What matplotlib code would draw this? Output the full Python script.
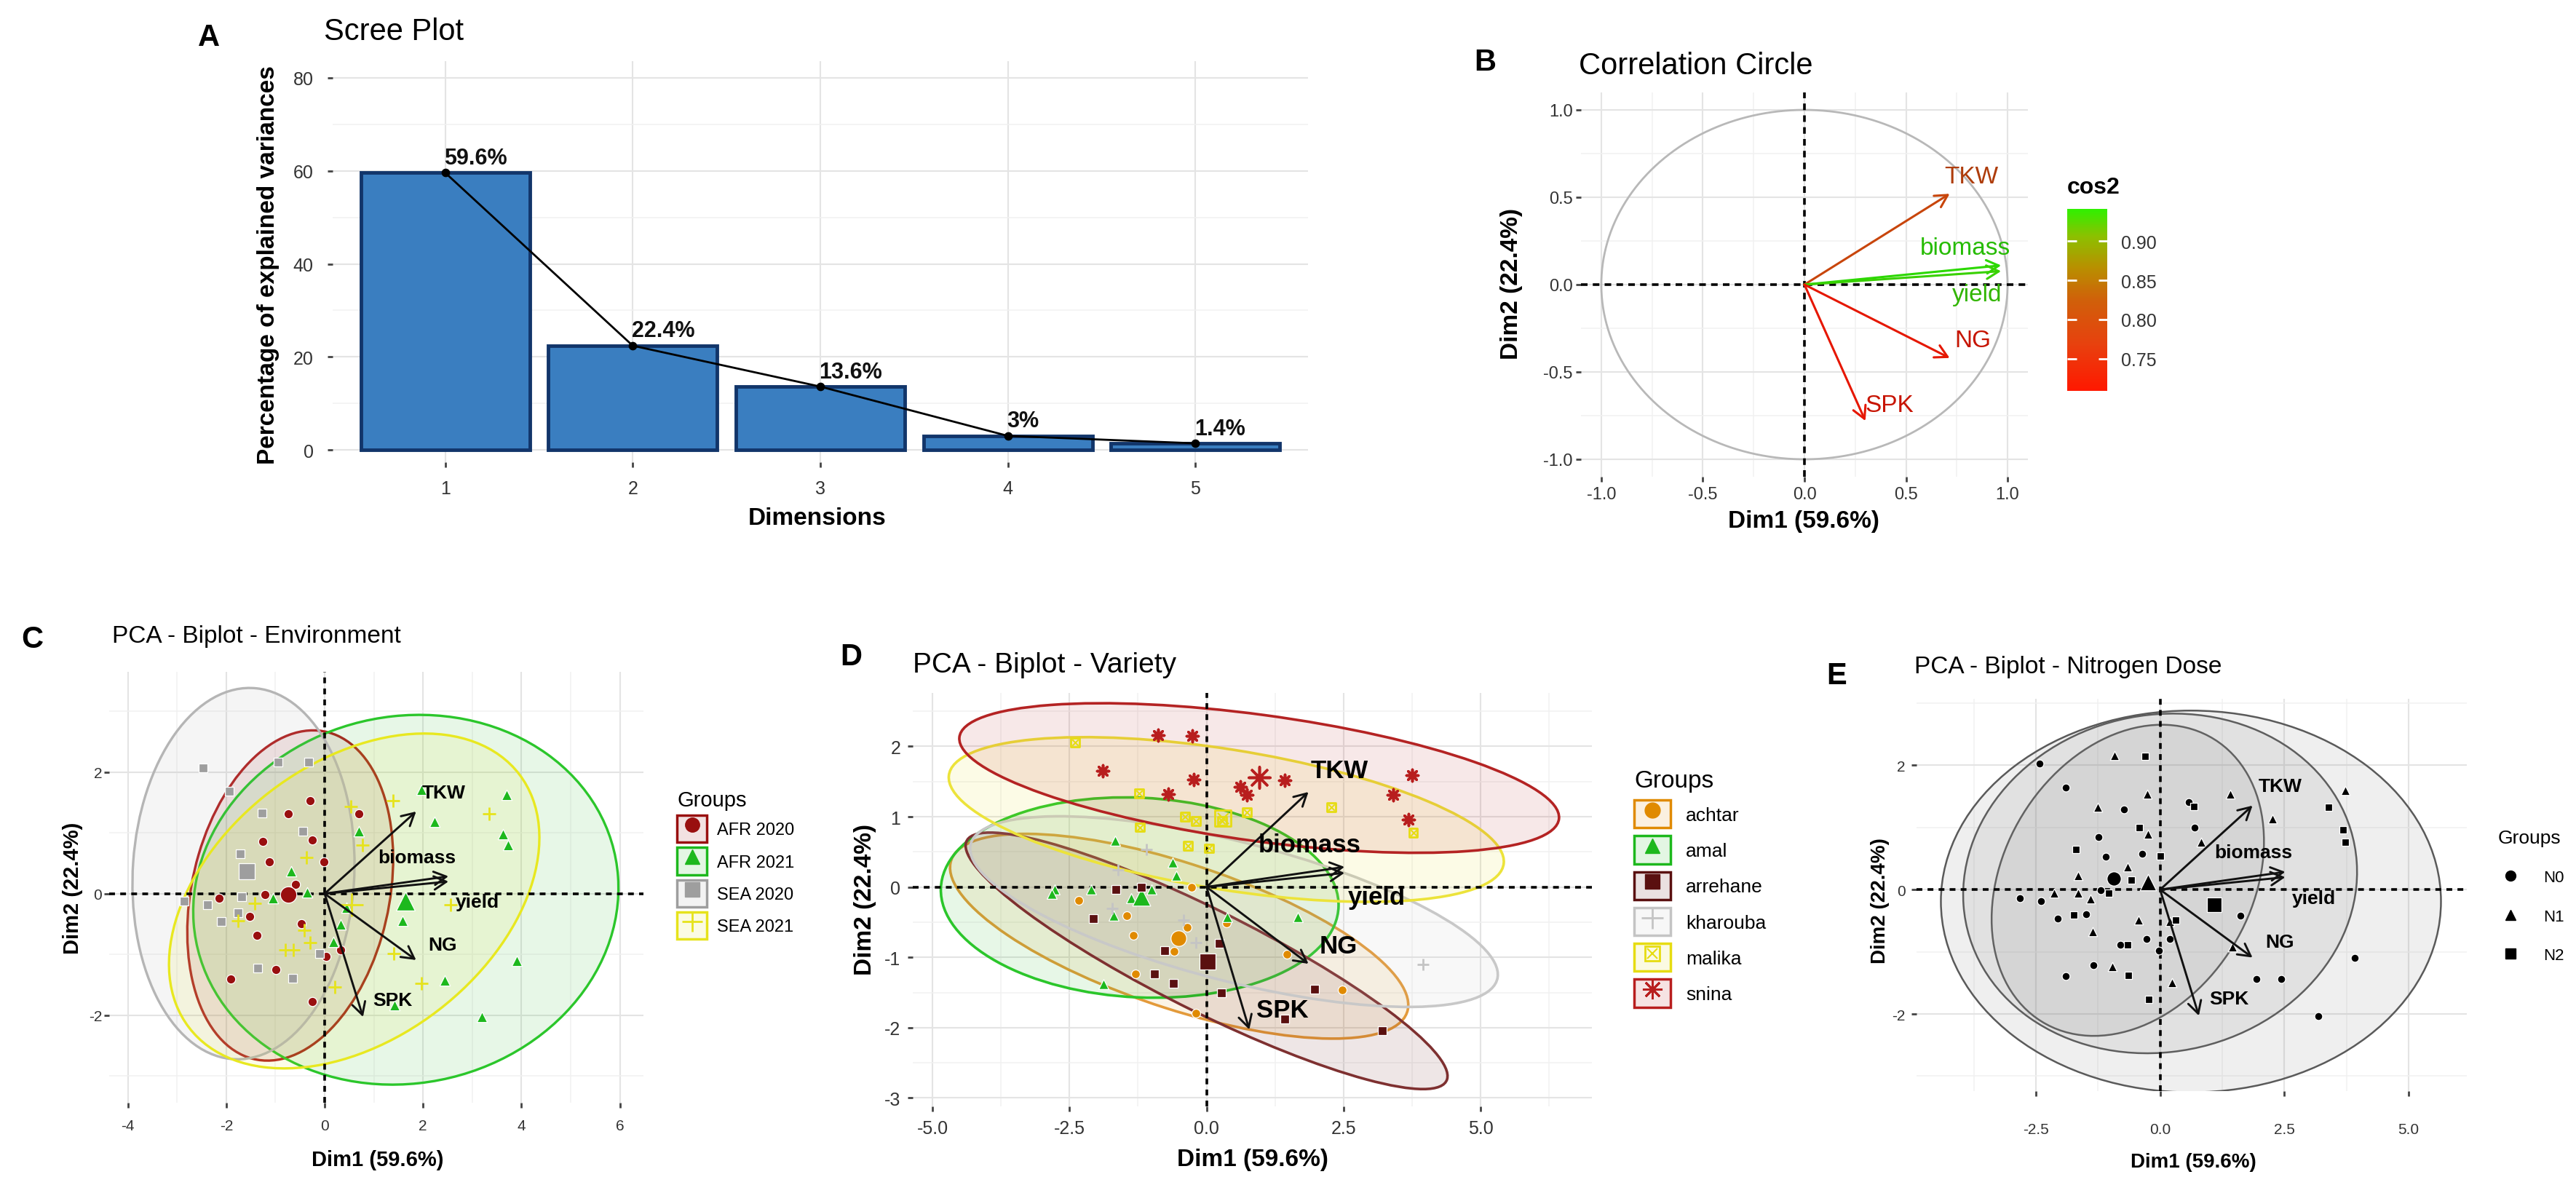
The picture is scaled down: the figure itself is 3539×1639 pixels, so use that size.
import numpy as np
import matplotlib
matplotlib.use("Agg")
import matplotlib.pyplot as plt
from matplotlib.patches import Ellipse, Patch
from matplotlib.lines import Line2D
from matplotlib.colors import LinearSegmentedColormap, Normalize, to_rgba
from matplotlib.cm import ScalarMappable

plt.rcParams['font.family'] = ['Liberation Sans', 'DejaVu Sans']
plt.rcParams['axes.unicode_minus'] = False

# ------------------------------------------------------------------ data
dims = [1, 2, 3, 4, 5]
explained = [59.6, 22.4, 13.6, 3.0, 1.4]
explained_labels = ['59.6%', '22.4%', '13.6%', '3%', '1.4%']

variables = ['TKW', 'biomass', 'yield', 'NG', 'SPK']
var_dim1 = [0.715, 0.968, 0.968, 0.715, 0.300]
var_dim2 = [0.520, 0.110, 0.077, -0.420, -0.780]
var_cos2 = [0.790, 0.941, 0.935, 0.712, 0.709]
cos2_min, cos2_max = 0.709, 0.941
cc_label_x = [0.82, 0.79, 0.85, 0.83, 0.42]
cc_label_y = [0.62, 0.21, -0.055, -0.32, -0.69]

biplot_arrow_scale = 2.6
bi_label_x = [2.42, 1.88, 3.10, 2.40, 1.38]
bi_label_y = [1.66, 0.60, -0.14, -0.84, -1.75]

# Environment (panel C)
env_groups = ['AFR 2020', 'AFR 2021', 'SEA 2020', 'SEA 2021']
afr2020_x = [-0.30, -0.74, 0.70, -1.26, -0.25, -1.13, -0.01, -0.59, -1.21, -2.14,
             -1.52, -1.38, -0.47, -1.91, -0.99, 0.03, 0.32, -0.25]
afr2020_y = [1.53, 1.32, 1.32, 0.86, 0.88, 0.52, 0.53, 0.15, -0.01, -0.07,
             -0.38, -0.69, -0.49, -1.41, -1.25, -1.03, -0.92, -1.78]
afr2021_x = [0.69, -0.68, -0.35, -1.05, 0.45, 0.32, 0.17, 1.96, 3.70, 2.24,
             3.63, 3.73, 1.59, 3.90, 2.44, 3.19, 1.42]
afr2021_y = [1.03, 0.37, 0.02, -0.07, -0.23, -0.51, -0.79, 1.71, 1.63, 1.18,
             0.98, 0.80, -0.44, -1.11, -1.43, -2.03, -1.83]
sea2020_x = [-2.47, -0.95, -0.33, -1.94, -1.28, -0.45, -1.72, -2.85, -2.38, -1.69,
             -1.76, -2.10, -1.36, -0.65, -0.10]
sea2020_y = [2.07, 2.17, 2.17, 1.68, 1.33, 1.03, 0.66, -0.12, -0.18, -0.05,
             -0.32, -0.46, -1.23, -1.39, -0.99]
sea2021_x = [0.53, 0.77, -0.37, -1.42, -1.76, -0.41, -0.30, -0.80, -0.63, 0.21,
             1.39, 3.35, 2.56, 1.41, 1.96]
sea2021_y = [1.43, 0.80, 0.60, -0.16, -0.44, -0.60, -0.81, -0.92, -0.92, -1.53,
             1.53, 1.32, -0.18, -0.99, -1.48]
env_mean_x = [-0.74, 1.64, -1.59, 0.55]
env_mean_y = [-0.02, -0.12, 0.37, -0.18]
env_ell_cx = [-0.70, 1.65, -1.65, 0.60]
env_ell_cy = [-0.03, -0.10, 0.33, -0.12]
env_ell_w = [3.96, 8.66, 4.50, 8.00]
env_ell_h = [5.60, 6.06, 6.12, 4.80]
env_ell_angle = [-20, 5, -5, 25]

# Variety (panel D)
var_groups = ['achtar', 'amal', 'arrehane', 'kharouba', 'malika', 'snina']
achtar_x = [-2.33, -1.46, -1.34, -0.36, -0.59, -1.30, -0.19, -0.28, 0.36, 1.47, 2.48]
achtar_y = [-0.19, -0.41, -0.69, -0.57, -0.91, -1.24, -1.79, 0.00, -0.51, -0.96, -1.46]
amal_x = [-1.67, -0.62, -0.55, -2.77, -2.83, -2.10, -1.70, -1.37, -1.01, -1.88, 0.38, 1.66]
amal_y = [0.66, 0.35, 0.16, -0.04, -0.10, -0.04, -0.41, -0.16, -0.04, -1.38, -0.43, -0.43]
arrehane_x = [-1.65, -1.19, -2.07, -0.76, -0.95, -0.60, 0.23, 0.27, 1.97, 3.21, 1.43]
arrehane_y = [-0.04, 0.00, -0.45, -0.90, -1.24, -1.37, -0.80, -1.50, -1.45, -2.04, -1.88]
kharouba_x = [-1.10, -1.61, -1.72, -0.42, -0.19, 3.95]
kharouba_y = [0.53, 0.24, -0.30, -0.47, -0.79, -1.10]
malika_x = [-2.40, -1.23, -0.39, -0.19, 0.29, -1.22, -0.34, 0.04, 0.73, 2.28, 3.77]
malika_y = [2.06, 1.33, 1.00, 0.94, 0.94, 0.85, 0.59, 0.55, 1.06, 1.13, 0.77]
snina_x = [-0.89, -0.26, -1.89, -0.24, -0.70, 0.62, 0.73, 1.43, 3.75, 3.40, 3.69]
snina_y = [2.16, 2.15, 1.65, 1.53, 1.32, 1.42, 1.31, 1.52, 1.59, 1.31, 0.96]
var_mean_x = [-0.51, -1.19, 0.02, np.nan, 0.30, 0.96]
var_mean_y = [-0.73, -0.14, -1.06, np.nan, 0.98, 1.56]
var_ell_cx = [-0.50, -1.22, 0.00, 0.50, 0.36, 0.96]
var_ell_cy = [-0.70, -0.15, -1.05, -0.35, 0.96, 1.55]
var_ell_w = [8.60, 7.26, 9.40, 9.80, 10.20, 11.00]
var_ell_h = [2.10, 2.84, 1.50, 2.00, 2.00, 1.80]
var_ell_angle = [-14, -2, -21, -11, -7, -6]

# Nitrogen dose (panel E)
dose_groups = ['N0', 'N1', 'N2']
n0_x = [-2.43, -1.90, -0.72, -1.24, -1.10, -0.36, -2.82, -2.40, -2.06, -1.49, -1.19, -0.27,
        -1.90, -1.34, -0.80, -0.03, 0.58, 0.70, 0.19, 1.61, 3.92, 1.94, 2.44, 3.19]
n0_y = [2.03, 1.64, 1.29, 0.84, 0.53, 0.58, -0.14, -0.18, -0.47, -0.39, -0.01, -0.79,
        -1.39, -1.21, -0.89, -0.98, 1.41, 1.00, -0.79, -0.42, -1.10, -1.44, -1.44, -2.03]
n1_x = [-0.92, -0.26, -1.25, -0.24, -0.65, -1.65, -2.13, -1.65, -1.40, -0.44, -1.36, -0.96,
        0.24, 0.19, 0.82, 1.41, 2.26, 3.73, 1.46]
n1_y = [2.16, 1.54, 1.32, 0.89, 0.36, 0.23, -0.05, -0.05, -0.15, -0.49, -0.68, -1.24,
        -1.49, -0.51, 0.76, 1.54, 1.14, 1.60, -0.92]
n2_x = [-0.30, -0.42, -1.69, -0.58, 0.00, -1.74, -1.03, -0.65, -0.64, -0.23, 0.31, 0.68,
        3.39, 3.68, 3.73]
n2_y = [2.14, 1.00, 0.65, 0.16, 0.54, -0.41, -0.05, -0.89, -1.38, -1.76, -0.49, 1.34,
        1.32, 0.96, 0.76]
dose_mean_x = [-0.93, -0.25, 1.09]
dose_mean_y = [0.18, 0.12, -0.24]
dose_ell_cx = [-0.65, 0.00, 0.62]
dose_ell_cy = [0.15, 0.10, -0.19]
dose_ell_w = [5.90, 7.94, 10.06]
dose_ell_h = [4.50, 5.44, 6.14]
dose_ell_angle = [35, 5, 0]

# ------------------------------------------------------------------ figure
W, H = 3539, 1640
fig = plt.figure(figsize=(W / 100, H / 100), dpi=100)
fig.patch.set_facecolor('white')


def rect(l, t, r, b):
    return [l / W, 1 - b / H, (r - l) / W, (b - t) / H]


def fx(px):
    return px / W


def fy(py):
    return 1 - py / H


GRID_MAJ = '#E4E4E4'
GRID_MIN = '#F1F1F1'
TICK_C = '#333333'


def style_axes(ax, xmaj, xlabels, xmin, ymaj, ylabels, ymin, fs, xpad, ypad):
    for s in ax.spines.values():
        s.set_visible(False)
    ax.set_xticks(xmaj, labels=xlabels)
    ax.set_xticks(xmin, minor=True)
    ax.set_yticks(ymaj, labels=ylabels)
    ax.set_yticks(ymin, minor=True)
    ax.grid(True, which='major', color=GRID_MAJ, lw=1.5)
    ax.grid(True, which='minor', color=GRID_MIN, lw=1.1)
    ax.set_axisbelow(True)
    ax.tick_params(which='major', length=5, width=2, color='#444444',
                   labelsize=fs, labelcolor=TICK_C)
    ax.tick_params(axis='x', which='major', pad=xpad)
    ax.tick_params(axis='y', which='major', pad=ypad)
    ax.tick_params(which='minor', length=0)


def set_labels(ax, r, xlab, ylab, xpos, ypos, fs):
    l, t, rr, b = r
    ax.set_xlabel(xlab, fontsize=fs, fontweight='bold')
    ax.set_ylabel(ylab, fontsize=fs, fontweight='bold')
    ax.xaxis.set_label_coords((xpos[0] - l) / (rr - l), (b - xpos[1]) / (b - t))
    ax.yaxis.set_label_coords((ypos[0] - l) / (rr - l), (b - ypos[1]) / (b - t))
    ax.xaxis.label.set_va('center')
    ax.yaxis.label.set_va('center')


def panel_heading(letter, lpos, title, tpos, tfs):
    fig.text(fx(lpos[0]), fy(lpos[1]), letter, fontsize=30, fontweight='bold',
             ha='center', va='center')
    fig.text(fx(tpos[0]), fy(tpos[1]), title, fontsize=tfs, ha='left', va='center')


def darken(c, f=0.78):
    r, g, b, a = to_rgba(c)
    return (r * f, g * f, b * f, a)


# ------------------------------------------------------------------ A: scree
rA = (457, 85, 1797, 636)
axA = fig.add_axes(rect(*rA))
axA.bar(dims, explained, width=0.9, color='#3A7EC0', edgecolor='#12356A',
        linewidth=3.5, zorder=2)
axA.plot(dims, explained, color='black', lw=2, zorder=3)
axA.scatter(dims, explained, color='black', s=55, zorder=4)
for d, v, lab in zip(dims, explained, explained_labels):
    axA.annotate(lab, (d, v), xytext=(-1, 4), textcoords='offset points',
                 ha='left', va='bottom', fontsize=22, fontweight='bold', color='#111111')
axA.set_xlim(0.4, 5.6)
axA.set_ylim(-2.66, 83.6)
style_axes(axA, dims, [str(d) for d in dims], [], [0, 20, 40, 60, 80],
           ['0', '20', '40', '60', '80'], [10, 30, 50, 70], 18, 12, 14)
set_labels(axA, rA, 'Dimensions', 'Percentage of explained variances',
           (1123, 713), (368, 364), 24)
panel_heading('A', (287, 52), 'Scree Plot', (445, 44), 30)

# ------------------------------------------------------------------ B: correlation circle
cmap_cos2 = LinearSegmentedColormap.from_list(
    'cos2', [(0.0, '#FF1800'), (0.25, '#E8400E'), (0.5, '#D0600A'),
             (0.68, '#B89000'), (0.85, '#8CC000'), (1.0, '#30F000')])
norm_cos2 = Normalize(cos2_min, cos2_max)

rB = (2172, 128, 2786, 656)
axB = fig.add_axes(rect(*rB))
theta = np.linspace(0, 2 * np.pi, 400)
axB.plot(np.cos(theta), np.sin(theta), color='#B8B8B8', lw=2, zorder=2)
axB.axhline(0, color='black', ls=(0, (2.5, 2)), lw=2.6, zorder=3)
axB.axvline(0, color='black', ls=(0, (2.5, 2)), lw=2.6, zorder=3)
for v, x, y, c2, lx, ly in zip(variables, var_dim1, var_dim2, var_cos2, cc_label_x, cc_label_y):
    col = cmap_cos2(norm_cos2(c2))
    axB.annotate('', xy=(x, y), xytext=(0, 0),
                 arrowprops=dict(arrowstyle='->,head_length=0.55,head_width=0.3',
                                 color=darken(col, 0.9), lw=2.2, shrinkA=0, shrinkB=0,
                                 mutation_scale=22), zorder=4)
    axB.text(lx, ly, v, color=darken(col, 0.78), fontsize=24, ha='center', va='center',
             zorder=5)
axB.set_xlim(-1.1, 1.1)
axB.set_ylim(-1.1, 1.1)
style_axes(axB, [-1, -0.5, 0, 0.5, 1], ['-1.0', '-0.5', '0.0', '0.5', '1.0'],
           [-0.75, -0.25, 0.25, 0.75], [-1, -0.5, 0, 0.5, 1],
           ['-1.0', '-0.5', '0.0', '0.5', '1.0'], [-0.75, -0.25, 0.25, 0.75], 17, 4, 3)
set_labels(axB, rB, 'Dim1 (59.6%)', 'Dim2 (22.4%)', (2478, 716), (2077, 390), 24)
panel_heading('B', (2040, 86), 'Correlation Circle', (2169, 91), 30)

cax = fig.add_axes(rect(2840, 288, 2895, 538))
cb = fig.colorbar(ScalarMappable(norm=norm_cos2, cmap=cmap_cos2), cax=cax,
                  ticks=[0.75, 0.80, 0.85, 0.90])
cb.outline.set_visible(False)
cb.ax.set_yticklabels(['0.75', '0.80', '0.85', '0.90'])
cb.ax.tick_params(direction='in', color='white', length=9, width=2,
                  left=True, right=True, labelsize=18, labelcolor=TICK_C, pad=14)
fig.text(fx(2840), fy(258), 'cos2', fontsize=23, fontweight='bold', ha='left', va='center')


# ------------------------------------------------------------------ biplot helpers
def draw_points(ax, x, y, shape, color, size, z, white_edge=True):
    ec = 'white' if white_edge else color
    if shape in ('o', 's'):
        ax.scatter(x, y, marker=shape, s=size ** 2, c=[color], edgecolors=ec,
                   linewidths=0.9, zorder=z)
    elif shape == '^':
        ax.scatter(x, y, marker='^', s=(size * 1.15) ** 2, c=[color], edgecolors=ec,
                   linewidths=0.9, zorder=z)
    elif shape == '+':
        ax.scatter(x, y, marker='+', s=(size * 1.4) ** 2, c=[color], linewidths=2, zorder=z)
    elif shape == 'boxx':
        ax.scatter(x, y, marker='s', s=size ** 2, facecolors='none', edgecolors=[color],
                   linewidths=2, zorder=z)
        ax.scatter(x, y, marker='x', s=(size * 0.7) ** 2, c=[color], linewidths=1.5, zorder=z)
    elif shape == 'ast':
        ax.scatter(x, y, marker=(8, 2, 0), s=(size * 1.35) ** 2, c=[color],
                   linewidths=2.6, zorder=z)


def legend_marker(shape, color, ms):
    if shape in ('o', '^', 's'):
        return [Line2D([], [], ls='', marker=shape, color=color, ms=ms, mec=color)]
    if shape == '+':
        return [Line2D([], [], ls='', marker='+', color=color, ms=ms * 1.4, mew=2)]
    if shape == 'boxx':
        return [Line2D([], [], ls='', marker='s', mfc='none', mec=color, ms=ms, mew=2),
                Line2D([], [], ls='', marker='x', color=color, ms=ms * 0.7, mew=1.5)]
    return [Line2D([], [], ls='', marker=(8, 2, 0), color=color, ms=ms * 1.3, mew=2)]


def biplot(ax, xs, ys, shapes, pcolors, ecolors, fcolors, falpha, elw,
           mx, my, ecx, ecy, ew, eh, ea, msize, label_fs):
    for i in range(len(xs)):
        ax.add_patch(Ellipse((ecx[i], ecy[i]), ew[i], eh[i], angle=ea[i],
                             facecolor=to_rgba(fcolors[i], falpha),
                             edgecolor=ecolors[i], lw=elw, zorder=1))
    ax.axhline(0, color='black', ls=(0, (2.2, 2)), lw=2.6, zorder=2)
    ax.axvline(0, color='black', ls=(0, (2.2, 2)), lw=2.6, zorder=2)
    for i in range(len(xs)):
        draw_points(ax, xs[i], ys[i], shapes[i], pcolors[i], msize, 3)
        if not np.isnan(mx[i]):
            draw_points(ax, [mx[i]], [my[i]], shapes[i], pcolors[i], msize * 1.8, 3)
    for v, x, y, lx, ly in zip(variables, var_dim1, var_dim2, bi_label_x, bi_label_y):
        ax.annotate('', xy=(x * biplot_arrow_scale, y * biplot_arrow_scale), xytext=(0, 0),
                    arrowprops=dict(arrowstyle='->,head_length=0.55,head_width=0.3',
                                    color='#111111', lw=2.1, shrinkA=0, shrinkB=0,
                                    mutation_scale=22), zorder=4)
        ax.text(lx, ly, v, color='black', fontsize=label_fs, fontweight='bold',
                ha='center', va='center', zorder=5)


def group_legend(labels, shapes, colors, boxes, anchor, fs, tfs, ms, hl, hh, ls, tp):
    handles = []
    for sh, c in zip(shapes, colors):
        mk = legend_marker(sh, c, ms)
        if boxes:
            handles.append(tuple([Patch(facecolor=to_rgba(c, 0.12), edgecolor=c, lw=2.5)] + mk))
        else:
            handles.append(tuple(mk))
    fig.legend(handles, labels, loc='upper left', bbox_to_anchor=(fx(anchor[0]), fy(anchor[1])),
               frameon=False, fontsize=fs, title='Groups', title_fontsize=tfs,
               handlelength=hl, handleheight=hh, labelspacing=ls, handletextpad=tp,
               borderpad=0, borderaxespad=0, alignment='left')


# ------------------------------------------------------------------ C: environment
env_colors = ['#990F0F', '#1DB81D', '#9E9E9E', '#E6E31C']
env_shapes = ['o', '^', 's', '+']
rC = (150, 924, 884, 1516)
axC = fig.add_axes(rect(*rC))
biplot(axC, [afr2020_x, afr2021_x, sea2020_x, sea2021_x],
       [afr2020_y, afr2021_y, sea2020_y, sea2021_y], env_shapes, env_colors,
       ['#B22020', '#2BC62B', '#B5B5B5', '#E8E820'], env_colors, 0.10, 2.4,
       env_mean_x, env_mean_y, env_ell_cx, env_ell_cy, env_ell_w, env_ell_h, env_ell_angle,
       9.0, 19)
axC.set_xlim(-4.38, 6.48)
axC.set_ylim(-3.44, 3.65)
style_axes(axC, [-4, -2, 0, 2, 4, 6], ['-4', '-2', '0', '2', '4', '6'], [-3, -1, 1, 3, 5],
           [-2, 0, 2], ['-2', '0', '2'], [-3, -1, 1, 3], 15, 11, 2)
set_labels(axC, rC, 'Dim1 (59.6%)', 'Dim2 (22.4%)', (519, 1594), (100, 1220), 21)
panel_heading('C', (44, 879), 'PCA - Biplot - Environment', (154, 875), 24)
group_legend(env_groups, env_shapes, env_colors, True, (930, 1086), 17, 21, 14,
             1.75, 2.05, 0.30, 0.6)

# ------------------------------------------------------------------ D: variety
var_colors = ['#E08A00', '#1DB81D', '#5A1010', '#C4C4C4', '#E6DC12', '#B81E1E']
var_edge = ['#E39A3A', '#2BC62B', '#7E3030', '#C8C8C8', '#ECE33A', '#B42323']
var_shapes = ['o', '^', 's', '+', 'boxx', 'ast']
rD = (1254, 953, 2187, 1521)
axD = fig.add_axes(rect(*rD))
biplot(axD, [achtar_x, amal_x, arrehane_x, kharouba_x, malika_x, snina_x],
       [achtar_y, amal_y, arrehane_y, kharouba_y, malika_y, snina_y], var_shapes, var_colors,
       var_edge, var_colors, 0.10, 2.6, var_mean_x, var_mean_y, var_ell_cx, var_ell_cy,
       var_ell_w, var_ell_h, var_ell_angle, 8.6, 25)
axD.set_xlim(-5.36, 7.03)
axD.set_ylim(-3.12, 2.76)
style_axes(axD, [-5, -2.5, 0, 2.5, 5], ['-5.0', '-2.5', '0.0', '2.5', '5.0'],
           [-3.75, -1.25, 1.25, 3.75, 6.25], [-3, -2, -1, 0, 1, 2],
           ['-3', '-2', '-1', '0', '1', '2'], [-2.5, -1.5, -0.5, 0.5, 1.5, 2.5], 18, 8, 7)
set_labels(axD, rD, 'Dim1 (59.6%)', 'Dim2 (22.4%)', (1721, 1594), (1188, 1236), 24)
panel_heading('D', (1169, 903), 'PCA - Biplot - Variety', (1254, 914), 28)
group_legend(var_groups, var_shapes, var_colors, True, (2245, 1058), 19, 24, 15,
             1.9, 1.85, 0.42, 0.8)

# ------------------------------------------------------------------ E: nitrogen dose
dose_shapes = ['o', '^', 's']
rE = (2633, 961, 3389, 1500)
axE = fig.add_axes(rect(*rE))
biplot(axE, [n0_x, n1_x, n2_x], [n0_y, n1_y, n2_y], dose_shapes, ['black'] * 3,
       ['#5A5A5A'] * 3, ['#7F7F7F'] * 3, 0.12, 1.8, dose_mean_x, dose_mean_y,
       dose_ell_cx, dose_ell_cy, dose_ell_w, dose_ell_h, dose_ell_angle, 7.8, 19)
axE.set_xlim(-4.9, 6.17)
axE.set_ylim(-3.24, 3.07)
style_axes(axE, [-2.5, 0, 2.5, 5], ['-2.5', '0.0', '2.5', '5.0'], [-3.75, -1.25, 1.25, 3.75],
           [-2, 0, 2], ['-2', '0', '2'], [-3, -1, 1, 3], 15, 26, 6)
set_labels(axE, rE, 'Dim1 (59.6%)', 'Dim2 (22.4%)', (3013, 1597), (2583, 1238), 20)
panel_heading('E', (2523, 929), 'PCA - Biplot - Nitrogen Dose', (2630, 917), 24)
group_legend(dose_groups, dose_shapes, ['black'] * 3, False, (3432, 1140), 16, 19, 10,
             1.5, 0.8, 1.45, 1.3)

fig.savefig('out.png', dpi=100, facecolor='white')
